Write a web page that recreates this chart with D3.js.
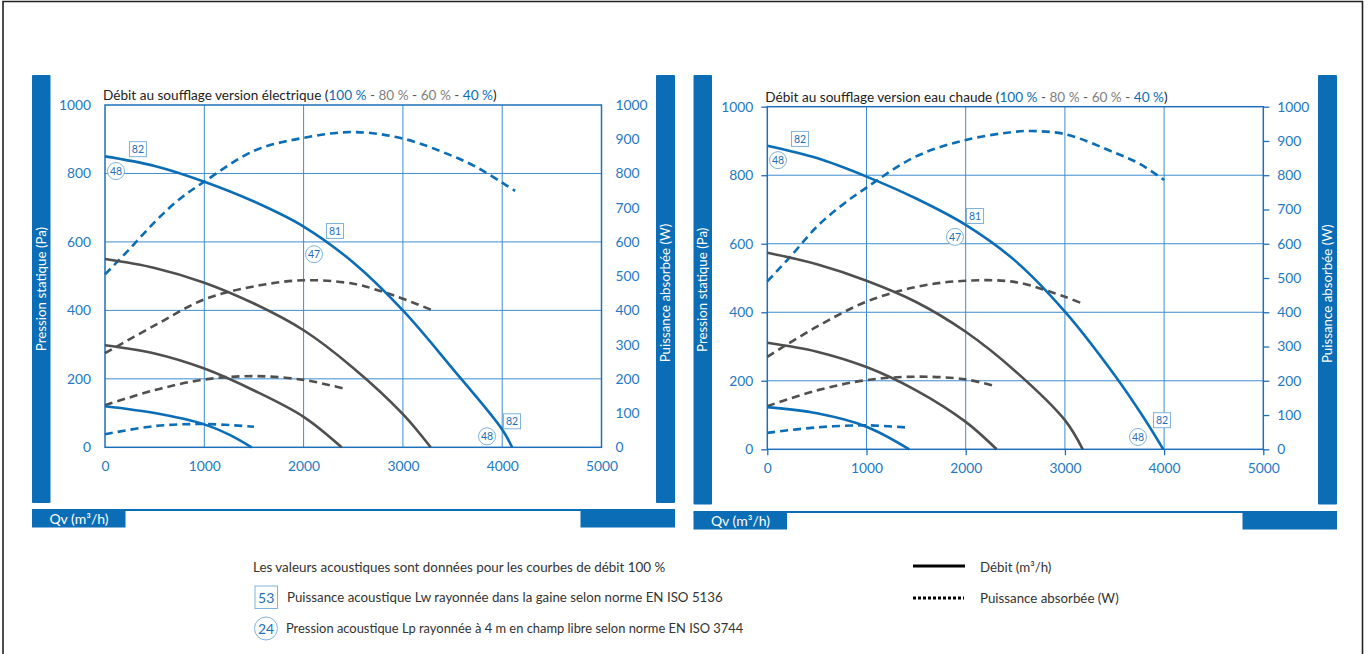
<!DOCTYPE html>
<html><head><meta charset="utf-8">
<script src="https://cdn.jsdelivr.net/npm/d3@7"></script>
<style>body{margin:0;background:#fff} svg{display:block} text{font-family:Lato,'Open Sans',sans-serif}</style>
</head><body><svg id="c" width="1371" height="654"></svg>
<script>
// ---------- data ----------
const xTicks = [0, 1000, 2000, 3000, 4000, 5000];
const pressureTicks = [0, 200, 400, 600, 800, 1000];
const powerTicks = [0, 100, 200, 300, 400, 500, 600, 700, 800, 900, 1000];
const speedLabels = ["100 %", "80 %", "60 %", "40 %"];
const chartTitles = ["Débit au soufflage version électrique (", "Débit au soufflage version eau chaude ("];
const axisLabels = ["Pression statique (Pa)", "Puissance absorbée (W)", "Qv (m³/h)"];

// électrique : pression (Pa) vs débit (m3/h)
const elecP100 = [[0,850],[500,822],[1000,776],[1500,718],[2000,645],[2500,540],[3000,400],[3500,230],[4000,52],[4100,0]];
const elecP80  = [[0,550],[500,524],[1000,481],[1500,420],[2000,342],[2500,232],[3000,97],[3280,0]];
const elecP60  = [[0,298],[500,274],[1000,230],[1500,166],[2000,89],[2383,0]];
const elecP40  = [[0,120],[500,100],[1000,67],[1250,37],[1477,0]];
// électrique : puissance absorbée (W)
const elecW100 = [[0,505],[250,580],[500,658],[750,725],[1000,776],[1500,866],[2000,904],[2500,921],[3000,902],[3500,851],[3750,817],[4000,773],[4130,749]];
const elecW80  = [[0,275],[500,356],[1000,432],[1500,470],[2000,488],[2500,478],[2800,454],[3000,434],[3300,400]];
const elecW60  = [[0,123],[500,167],[1000,198],[1500,208],[2000,197],[2400,172]];
const elecW40  = [[0,38],[500,62],[1000,68],[1500,60]];

// eau chaude : pression (Pa)
const hotP100 = [[0,886],[500,850],[1000,796],[1500,732],[2000,655],[2500,550],[3000,402],[3500,217],[3800,90],[3992,0]];
const hotP80  = [[0,574],[500,540],[1000,492],[1500,430],[2000,343],[2500,228],[3000,85],[3180,0]];
const hotP60  = [[0,311],[500,285],[1000,240],[1500,172],[2000,80],[2312,0]];
const hotP40  = [[0,123],[500,105],[1000,66],[1431,0]];
// eau chaude : puissance absorbée (W)
const hotW100 = [[0,490],[250,568],[500,650],[750,712],[1000,764],[1500,855],[2000,903],[2500,927],[2650,929],[3000,920],[3500,866],[3750,834],[4000,786]];
const hotW80  = [[0,270],[500,358],[1000,431],[1500,474],[2000,492],[2500,488],[3000,445],[3190,424]];
const hotW60  = [[0,126],[500,172],[1000,202],[1500,212],[2000,204],[2310,183]];
const hotW40  = [[0,48],[500,64],[1000,70],[1431,63]];

// acoustic annotations [débit, pression, valeur]
const elecLw = [[332,871,"82"],[2316,632,"81"],[4099,76,"82"]];
const elecLp = [[111,807,"48"],[2105,564,"47"],[3847,32,"48"]];
const hotLw  = [[330,906,"82"],[2094,681,"81"],[3979,85,"82"]];
const hotLp  = [[108,844,"48"],[1892,620,"47"],[3737,36,"48"]];

const legendNote = "Les valeurs acoustiques sont données pour les courbes de débit 100 %";
const legendLw = ["53", "Puissance acoustique Lw rayonnée dans la gaine selon norme EN ISO 5136"];
const legendLp = ["24", "Pression acoustique Lp rayonnée à 4 m en champ libre selon norme EN ISO 3744"];
const legendLines = ["Débit (m³/h)", "Puissance absorbée (W)"];

// ---------- style ----------
const BLUE = "#0b6db5", GRAY = "#4f4f4f", TICK = "#2479c2", GRID = "#3f8ccf", LIGHT = "#7fb2de";
const svg = d3.select("#c");

// outer frame
svg.append("path").attr("d","M3,660 V1.5 H1362.5 V660").attr("fill","none").attr("stroke","#222").attr("stroke-width",1.6);

function drawChart(cfg) {
  const g = svg.append("g");
  const x = d3.scaleLinear().domain([0,5000]).range([cfg.x0, cfg.x1]);
  const y = d3.scaleLinear().domain([0,1000]).range([cfg.y0, cfg.y1]);

  // side bars
  g.append("rect").attr("x",cfg.lb).attr("y",75).attr("width",18.5).attr("height",cfg.barB-75).attr("fill",BLUE).attr("rx",1);
  g.append("rect").attr("x",cfg.rb).attr("y",75).attr("width",19).attr("height",cfg.barB-75).attr("fill",BLUE).attr("rx",1);
  g.append("text").attr("transform",`translate(${cfg.lb+13.5},${(75+cfg.barB)/2}) rotate(-90)`)
    .attr("text-anchor","middle").attr("fill","#fff").attr("font-size",13.3).text(axisLabels[0]);
  g.append("text").attr("transform",`translate(${cfg.rb+14},${(75+cfg.barB)/2+4}) rotate(-90)`)
    .attr("text-anchor","middle").attr("fill","#fff").attr("font-size",13.3).text(axisLabels[1]);
  // bottom line and boxes
  g.append("rect").attr("x",cfg.lb).attr("y",cfg.qvY-1).attr("width",cfg.rb+19-cfg.lb).attr("height",2).attr("fill",BLUE);
  g.append("rect").attr("x",cfg.lb).attr("y",cfg.qvY).attr("width",93.5).attr("height",17.5).attr("fill",BLUE);
  g.append("rect").attr("x",cfg.rb+19-94.5).attr("y",cfg.qvY).attr("width",94.5).attr("height",17.5).attr("fill",BLUE);
  g.append("text").attr("x",cfg.lb+47).attr("y",cfg.qvY+13.5).attr("text-anchor","middle").attr("fill","#fff").attr("font-size",14).text(axisLabels[2]);

  // grid
  g.append("g").selectAll("line").data(xTicks.slice(1,-1)).join("line")
    .attr("x1",d=>x(d)).attr("x2",d=>x(d)).attr("y1",y(0)).attr("y2",y(1000)).attr("stroke",GRID).attr("stroke-width",1);
  g.append("g").selectAll("line").data(pressureTicks.slice(1,-1)).join("line")
    .attr("x1",x(0)).attr("x2",x(5000)).attr("y1",d=>y(d)).attr("y2",d=>y(d)).attr("stroke",GRID).attr("stroke-width",1);
  g.append("rect").attr("x",x(0)).attr("y",y(1000)).attr("width",x(5000)-x(0)).attr("height",y(0)-y(1000))
    .attr("fill","none").attr("stroke","#1f70b8").attr("stroke-width",1.5);

  // axes
  const ts = cfg.ticks ? 6 : 0;
  const pad = cfg.ticks ? 8 : 14;
  const fmt = d3.format("d");
  const ax = g.append("g").attr("transform",`translate(0,${y(0)})`).call(d3.axisBottom(x).tickValues(xTicks).tickFormat(fmt).tickSize(ts).tickPadding(pad));
  const al = g.append("g").attr("transform",`translate(${x(0)},0)`).call(d3.axisLeft(y).tickValues(pressureTicks).tickFormat(fmt).tickSize(ts).tickPadding(pad));
  const ar = g.append("g").attr("transform",`translate(${x(5000)},0)`).call(d3.axisRight(y).tickValues(powerTicks).tickFormat(fmt).tickSize(ts).tickPadding(pad));
  [ax,al,ar].forEach(a=>{
    a.select(".domain").remove();
    a.selectAll("line").attr("stroke","#1f70b8").attr("stroke-width",1.3);
    a.selectAll("text").attr("fill",TICK).attr("font-size",13.8).attr("font-family","Lato,'Open Sans',sans-serif");
  });

  // title
  const t = g.append("text").attr("x",cfg.x0-2).attr("y",y(1000)-5).attr("font-size",13.6).attr("fill","#222");
  t.append("tspan").text(cfg.title);
  const cols = [BLUE,"#808080","#808080",BLUE];
  speedLabels.forEach((s,i)=>{
    t.append("tspan").attr("fill",cols[i]).text(s);
    t.append("tspan").attr("fill",i<3?"#555":"#222").text(i<3?" - ":")");
  });

  // curves
  const line = d3.line().x(d=>x(d[0])).y(d=>y(d[1])).curve(d3.curveCatmullRom.alpha(0.5));
  const series = [
    [cfg.W80,GRAY,true],[cfg.W60,GRAY,true],[cfg.W40,BLUE,true],[cfg.W100,BLUE,true],
    [cfg.P80,GRAY,false],[cfg.P60,GRAY,false],[cfg.P40,BLUE,false],[cfg.P100,BLUE,false]
  ];
  g.append("g").selectAll("path").data(series).join("path")
    .attr("d",d=>line(d[0])).attr("fill","none").attr("stroke",d=>d[1]).attr("stroke-width",2.6)
    .attr("stroke-dasharray",d=>d[2]?"8,5":null);

  // acoustic labels
  const bx = g.append("g").selectAll("g").data(cfg.lw).join("g").attr("transform",d=>`translate(${x(d[0])},${y(d[1])})`);
  bx.append("rect").attr("x",-8.5).attr("y",-7.5).attr("width",17).attr("height",15).attr("fill","#fff").attr("stroke",LIGHT).attr("stroke-width",1);
  bx.append("text").attr("text-anchor","middle").attr("y",3.8).attr("font-size",10.5).attr("fill","#1f6fb8").text(d=>d[2]);
  const cx = g.append("g").selectAll("g").data(cfg.lp).join("g").attr("transform",d=>`translate(${x(d[0])},${y(d[1])})`);
  cx.append("circle").attr("r",8.5).attr("fill","#fff").attr("stroke",LIGHT).attr("stroke-width",1);
  cx.append("text").attr("text-anchor","middle").attr("y",3.8).attr("font-size",10.5).attr("fill","#1f6fb8").text(d=>d[2]);
}

drawChart({x0:105,x1:601.5,y0:447.3,y1:105,lb:32,rb:656,barB:503,qvY:510,ticks:false,title:chartTitles[0],
  P100:elecP100,P80:elecP80,P60:elecP60,P40:elecP40,W100:elecW100,W80:elecW80,W60:elecW60,W40:elecW40,lw:elecLw,lp:elecLp});
drawChart({x0:767.3,x1:1263.3,y0:449.3,y1:106.7,lb:693.5,rb:1318,barB:504.5,qvY:512,ticks:true,title:chartTitles[1],
  P100:hotP100,P80:hotP80,P60:hotP60,P40:hotP40,W100:hotW100,W80:hotW80,W60:hotW60,W40:hotW40,lw:hotLw,lp:hotLp});

// legend
const lg = svg.append("g").attr("fill","#333");
lg.append("text").attr("x",253).attr("y",571.5).attr("font-size",13.4).text(legendNote);
lg.append("rect").attr("x",255).attr("y",586).attr("width",22.5).attr("height",22.5).attr("fill","#fff").attr("stroke",LIGHT);
lg.append("text").attr("x",266.2).attr("y",602.5).attr("text-anchor","middle").attr("font-size",14).attr("fill","#1f6fb8").text(legendLw[0]);
lg.append("text").attr("x",287).attr("y",602).attr("font-size",13.3).text(legendLw[1]);
lg.append("circle").attr("cx",266).attr("cy",628.5).attr("r",11.5).attr("fill","#fff").attr("stroke",LIGHT);
lg.append("text").attr("x",266).attr("y",633.5).attr("text-anchor","middle").attr("font-size",14).attr("fill","#1f6fb8").text(legendLp[0]);
lg.append("text").attr("x",286).attr("y",633).attr("font-size",12.9).text(legendLp[1]);
lg.append("line").attr("x1",913).attr("x2",965).attr("y1",566).attr("y2",566).attr("stroke","#000").attr("stroke-width",3);
lg.append("line").attr("x1",913).attr("x2",964).attr("y1",598).attr("y2",598).attr("stroke","#000").attr("stroke-width",3).attr("stroke-dasharray","3,2");
lg.append("text").attr("x",980).attr("y",571.5).attr("font-size",13.3).text(legendLines[0]);
lg.append("text").attr("x",980).attr("y",603).attr("font-size",13.3).text(legendLines[1]);
</script></body></html>
